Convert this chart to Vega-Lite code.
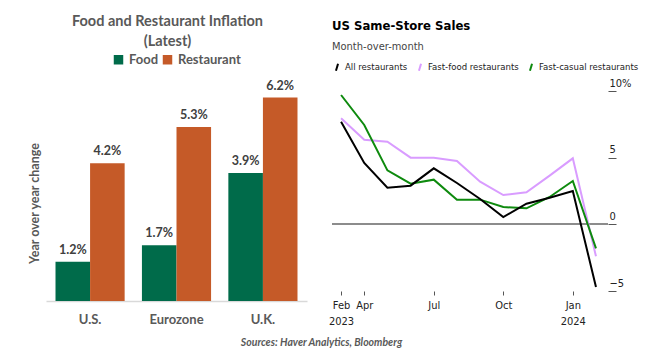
{
  "$schema": "https://vega.github.io/schema/vega-lite/v6.json",
  "padding": {"left": 28, "top": 13, "right": 5, "bottom": 5},
  "background": "white",
  "title": {"text": "Sources: Haver Analytics, Bloomberg", "orient": "bottom", "anchor": "middle", "dx": -12, "font": "Lato", "fontStyle": "italic", "fontWeight": "bold", "fontSize": 10.5, "color": "#595959", "offset": 12},
  "spacing": 21,
  "resolve": {"scale": {"color": "independent"}, "legend": {"color": "independent"}},
  "config": {"view": {"stroke": null}},
  "hconcat": [
    {
      "width": 261,
      "height": 210,
      "title": {"text": ["Food and Restaurant Inflation", "(Latest)"], "font": "Lato", "fontSize": 14.5, "fontWeight": "bold", "color": "#595959", "anchor": "middle", "frame": "bounds", "lineHeight": 20, "offset": 4},
      "data": {"values": [
        {"region": "U.S.", "type": "Food", "value": 0.012},
        {"region": "U.S.", "type": "Restaurant", "value": 0.042},
        {"region": "Eurozone", "type": "Food", "value": 0.017},
        {"region": "Eurozone", "type": "Restaurant", "value": 0.053},
        {"region": "U.K.", "type": "Food", "value": 0.039},
        {"region": "U.K.", "type": "Restaurant", "value": 0.062}
      ]},
      "encoding": {
        "x": {"field": "region", "type": "nominal", "sort": ["U.S.", "Eurozone", "U.K."], "scale": {"paddingInner": 0.2, "paddingOuter": 0.11}, "axis": {"title": null, "labelAngle": 0, "labelFont": "Lato", "labelFontSize": 13, "labelFontWeight": "bold", "labelColor": "#595959", "ticks": false, "domainColor": "#d9d9d9", "domainWidth": 1.5, "labelPadding": 12}},
        "xOffset": {"field": "type", "sort": ["Food", "Restaurant"]},
        "y": {"field": "value", "type": "quantitative", "scale": {"domain": [0, 0.064], "nice": false}, "axis": {"title": "Year over year change", "titleY": 112, "labels": false, "ticks": false, "domain": false, "grid": false, "titleFont": "Lato", "titleFontSize": 12.5, "titleFontWeight": "bold", "titleColor": "#595959", "titlePadding": 5}}
      },
      "layer": [
        {"mark": {"type": "bar"}, "encoding": {"color": {"field": "type", "type": "nominal", "scale": {"domain": ["Food", "Restaurant"], "range": ["#006b4a", "#c55a28"]}, "legend": {"orient": "none", "legendX": 66, "legendY": -38, "direction": "horizontal", "title": null, "symbolType": "square", "symbolSize": 90, "labelFont": "Lato", "labelFontSize": 13, "labelFontWeight": "bold", "labelColor": "#595959", "columnPadding": 2, "labelOffset": 4}}}},
        {"mark": {"type": "text", "baseline": "bottom", "dy": -5, "font": "Lato", "fontSize": 12.5, "fontWeight": "bold", "color": "#404040"}, "encoding": {"text": {"field": "value", "type": "quantitative", "format": ".1%"}}}
      ]
    },
    {
      "width": 276,
      "height": 200,
      "title": {"text": "US Same-Store Sales", "subtitle": "Month-over-month", "anchor": "start", "frame": "group", "font": "DejaVu Sans Condensed, Roboto, sans-serif", "fontSize": 13, "fontWeight": "bold", "color": "#000000", "subtitleFont": "DejaVu Sans Condensed, Roboto, sans-serif", "subtitleFontSize": 11, "subtitleColor": "#444444", "subtitlePadding": 8, "offset": 10},
      "data": {"values": [
        {"month": "Feb 2023", "series": "Fast-food restaurants", "value": 7.95},
        {"month": "Apr 2023", "series": "Fast-food restaurants", "value": 6.35},
        {"month": "May 2023", "series": "Fast-food restaurants", "value": 6.2},
        {"month": "Jun 2023", "series": "Fast-food restaurants", "value": 5.0},
        {"month": "Jul 2023", "series": "Fast-food restaurants", "value": 5.0},
        {"month": "Aug 2023", "series": "Fast-food restaurants", "value": 4.75},
        {"month": "Sep 2023", "series": "Fast-food restaurants", "value": 3.2},
        {"month": "Oct 2023", "series": "Fast-food restaurants", "value": 2.2},
        {"month": "Nov 2023", "series": "Fast-food restaurants", "value": 2.4},
        {"month": "Dec 2023", "series": "Fast-food restaurants", "value": 3.65},
        {"month": "Jan 2024", "series": "Fast-food restaurants", "value": 4.95},
        {"month": "Feb 2024", "series": "Fast-food restaurants", "value": -2.4},
        {"month": "Feb 2023", "series": "Fast-casual restaurants", "value": 9.7},
        {"month": "Apr 2023", "series": "Fast-casual restaurants", "value": 7.45},
        {"month": "May 2023", "series": "Fast-casual restaurants", "value": 4.05},
        {"month": "Jun 2023", "series": "Fast-casual restaurants", "value": 3.05},
        {"month": "Jul 2023", "series": "Fast-casual restaurants", "value": 3.35},
        {"month": "Aug 2023", "series": "Fast-casual restaurants", "value": 1.85},
        {"month": "Sep 2023", "series": "Fast-casual restaurants", "value": 1.85},
        {"month": "Oct 2023", "series": "Fast-casual restaurants", "value": 1.3},
        {"month": "Nov 2023", "series": "Fast-casual restaurants", "value": 1.2},
        {"month": "Dec 2023", "series": "Fast-casual restaurants", "value": 2.05},
        {"month": "Jan 2024", "series": "Fast-casual restaurants", "value": 3.25},
        {"month": "Feb 2024", "series": "Fast-casual restaurants", "value": -1.8},
        {"month": "Feb 2023", "series": "All restaurants", "value": 7.7},
        {"month": "Apr 2023", "series": "All restaurants", "value": 4.6},
        {"month": "May 2023", "series": "All restaurants", "value": 2.75},
        {"month": "Jun 2023", "series": "All restaurants", "value": 2.9},
        {"month": "Jul 2023", "series": "All restaurants", "value": 4.2},
        {"month": "Aug 2023", "series": "All restaurants", "value": 3.1},
        {"month": "Sep 2023", "series": "All restaurants", "value": 1.9},
        {"month": "Oct 2023", "series": "All restaurants", "value": 0.55},
        {"month": "Nov 2023", "series": "All restaurants", "value": 1.55},
        {"month": "Dec 2023", "series": "All restaurants", "value": 2.0},
        {"month": "Jan 2024", "series": "All restaurants", "value": 2.5},
        {"month": "Feb 2024", "series": "All restaurants", "value": -4.7}
      ]},
      "layer": [
        {"mark": {"type": "rule", "color": "#8c8c8c", "strokeWidth": 1.5}, "encoding": {"y": {"datum": 0, "type": "quantitative"}}},
        {
          "mark": {"type": "line", "strokeWidth": 2},
          "encoding": {
            "x": {"field": "month", "type": "ordinal", "sort": null, "scale": {"type": "point", "padding": 0.455, "align": 0.43}, "axis": {"title": null, "values": ["Feb 2023", "Apr 2023", "Jul 2023", "Oct 2023", "Jan 2024"], "labelExpr": "datum.value == 'Feb 2023' ? ['Feb', '2023'] : datum.value == 'Jan 2024' ? ['Jan', '2024'] : slice(datum.value, 0, 3)", "labelAngle": 0, "domain": false, "tickSize": 4, "tickColor": "#555555", "labelFont": "DejaVu Sans Condensed, Roboto, sans-serif", "labelFontSize": 11, "labelColor": "#222222", "labelPadding": 4, "labelLineHeight": 16}},
            "y": {"field": "value", "type": "quantitative", "scale": {"domain": [-5, 10], "nice": false}, "axis": {"title": null, "orient": "right", "values": [-5, 0, 5, 10], "labelExpr": "datum.value == 10 ? '10%' : datum.label", "grid": false, "domain": false, "tickSize": 8, "tickColor": "#555555", "labelAlign": "left", "labelBaseline": "bottom", "labelPadding": -7, "labelOffset": -3, "labelFont": "DejaVu Sans Condensed, Roboto, sans-serif", "labelFontSize": 11, "labelColor": "#222222"}},
            "color": {"field": "series", "type": "nominal", "scale": {"domain": ["All restaurants", "Fast-food restaurants", "Fast-casual restaurants"], "range": ["#000000", "#d99cff", "#0e8a0e"]}, "legend": {"orient": "none", "legendX": 0, "legendY": -29, "direction": "horizontal", "title": null, "symbolType": "M-0.3,1L0.3,-1", "symbolSize": 50, "symbolStrokeWidth": 2, "labelFont": "DejaVu Sans Condensed, Roboto, sans-serif", "labelFontSize": 9.5, "labelColor": "#222222", "labelOffset": 3, "columnPadding": 6}}
          }
        }
      ]
    }
  ]
}
